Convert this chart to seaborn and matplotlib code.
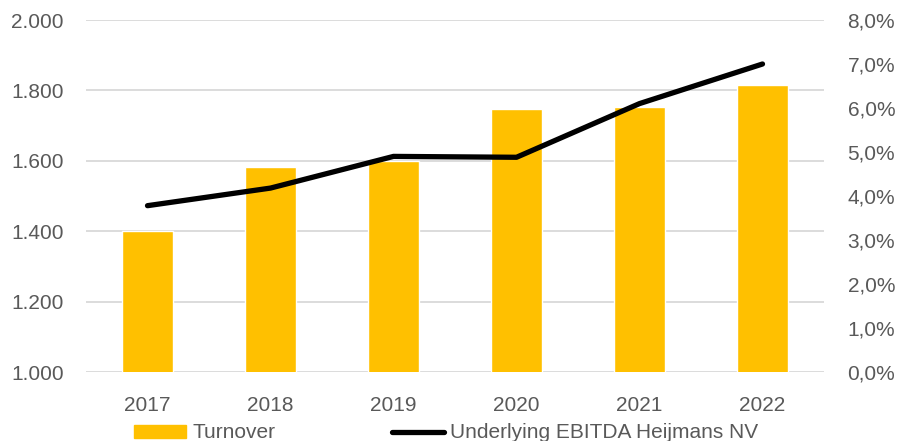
import numpy as np
import matplotlib
matplotlib.use('Agg')
import matplotlib.pyplot as plt
import seaborn as sns
from matplotlib.ticker import FuncFormatter, MultipleLocator
from matplotlib.patches import Patch
from matplotlib.lines import Line2D

# data
years = ['2017', '2018', '2019', '2020', '2021', '2022']
turnover = [1400, 1582, 1600, 1747, 1753, 1815]        # left axis
ebitda_pct = [3.78, 4.18, 4.90, 4.88, 6.10, 7.00]      # right axis, %

sns.set_style('white')
plt.rcParams['font.family'] = ['Liberation Sans', 'DejaVu Sans']
text_col = '#595959'
grid_col = '#D9D9D9'

fig = plt.figure(figsize=(8.99, 4.41), dpi=100)
ax = fig.add_axes([86/899, 1 - 372/441, (824 - 86)/899, (372 - 20)/441])

sns.barplot(x=years, y=turnover, color='#FFC000', width=0.41, saturation=1, ax=ax)
ax.set_ylim(1000, 2000)
ax.set_xlim(-0.5, len(years) - 0.5)
ax.yaxis.set_major_locator(MultipleLocator(200))
ax.yaxis.set_major_formatter(FuncFormatter(lambda v, p: f'{v:,.0f}'.replace(',', '.')))
ax.grid(axis='y', color=grid_col, linewidth=1.3)
ax.set_axisbelow(True)
ax.set_xlabel('')
ax.set_ylabel('')

ax2 = ax.twinx()
sns.lineplot(x=np.arange(len(years)), y=ebitda_pct, color='black', linewidth=3.8, ax=ax2)
for ln in ax2.lines:
    ln.set_solid_capstyle('round')
    ln.set_solid_joinstyle('round')
ax2.set_ylim(0, 8)
ax2.yaxis.set_major_locator(MultipleLocator(1))
ax2.yaxis.set_major_formatter(FuncFormatter(lambda v, p: f'{v:.1f}%'.replace('.', ',')))
ax2.set_xlim(-0.5, len(years) - 0.5)

for a in (ax, ax2):
    for s in a.spines.values():
        s.set_visible(False)
    a.tick_params(length=0, labelsize=15, labelcolor=text_col)
ax.tick_params(axis='y', pad=16)
ax.tick_params(axis='x', pad=17)
ax2.tick_params(axis='y', pad=17)

handles = [Patch(color='#FFC000', label='Turnover'),
           Line2D([0], [0], color='black', linewidth=3.8, solid_capstyle='round',
                  label='Underlying EBITDA Heijmans NV')]
fig.legend(handles=handles, loc='center', bbox_to_anchor=(0.496, 1 - 433/441),
           ncol=2, frameon=False, fontsize=15, labelcolor=text_col,
           handlelength=2.5, handleheight=0.6, handletextpad=0.3, columnspacing=5.6)

fig.savefig('out.png', dpi=100)
